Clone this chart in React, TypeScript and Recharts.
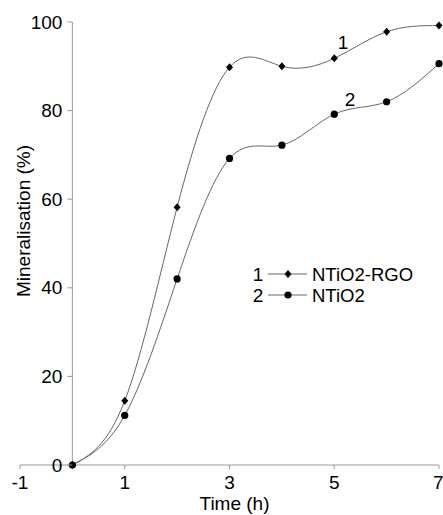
import { LineChart, Line, XAxis, YAxis, ReferenceLine, ReferenceDot } from "recharts"

const hours = [0, 1, 2, 3, 4, 5, 6, 7]
const ntio2Rgo = [0, 14.5, 58.2, 89.8, 90, 91.8, 97.8, 99.2]
const ntio2 = [0, 11.2, 42, 69.2, 72.2, 79.2, 82, 90.6]
const xTicks = [-1, 1, 3, 5, 7]
const yTicks = [0, 20, 40, 60, 80, 100]
const seriesNames = ["NTiO2-RGO", "NTiO2"]

const data = hours.map((h, i) => ({ h, a: ntio2Rgo[i], b: ntio2[i] }))

const W = 435
const H = 507
const margin = { top: 14, right: 4, left: 11, bottom: 0 }
const plotW = W - 12 - margin.right
// y axis is drawn at x = 0, one unit in from the left of the domain
const axisX = 12 + plotW / 8
const font = "'Liberation Sans', Arial, sans-serif"
const axisGrey = "#999999"
const lineGrey = "#666666"

const Diamond = (props: any) => {
  const { cx, cy } = props
  if (cx == null || cy == null) return null
  return <path d={`M${cx},${cy - 4}L${cx + 3.5},${cy}L${cx},${cy + 4}L${cx - 3.5},${cy}Z`} fill="#000" />
}

const Dot = (props: any) => {
  const { cx, cy } = props
  if (cx == null || cy == null) return null
  return <circle cx={cx} cy={cy} r={3.6} fill="#000" />
}

const YTick = (props: any) => {
  const { y, payload } = props
  return (
    <g>
      <line x1={axisX - 5} x2={axisX} y1={y} y2={y} stroke={axisGrey} />
      <text x={axisX - 10} y={y} textAnchor="end" dominantBaseline="central" fontSize={19} fill="#000" fontFamily={font}>
        {payload.value}
      </text>
    </g>
  )
}

export default function App() {
  return (
    <div style={{ position: "absolute", left: 8, top: 8, width: W, height: H, fontFamily: font }}>
      <LineChart width={W} height={H} data={data} margin={margin}>
        <XAxis
          dataKey="h"
          type="number"
          domain={[-1, 7]}
          ticks={xTicks}
          stroke={axisGrey}
          tickSize={4}
          tickMargin={7}
          height={50}
          tick={{ fill: "#000", fontSize: 19, fontFamily: font }}
          label={{ value: "Time (h)", position: "insideBottom", offset: 5, dx: 5, fill: "#000", fontSize: 19, fontFamily: font }}
        />
        <YAxis
          type="number"
          domain={[0, 100]}
          ticks={yTicks}
          width={1}
          axisLine={false}
          tickLine={false}
          interval={0}
          tick={(p: any) => <YTick {...p} />}
        />
        <ReferenceLine segment={[{ x: 0, y: 0 }, { x: 0, y: 100 }]} stroke={axisGrey} />
        <Line type="natural" dataKey="a" stroke={lineGrey} strokeWidth={1} dot={<Diamond />} isAnimationActive={false} />
        <Line type="natural" dataKey="b" stroke={lineGrey} strokeWidth={1} dot={<Dot />} isAnimationActive={false} />
        <ReferenceDot x={5.17} y={95.5} r={0} label={{ value: "1", fill: "#000", fontSize: 19, fontFamily: font }} />
        <ReferenceDot x={5.3} y={82.6} r={0} label={{ value: "2", fill: "#000", fontSize: 19, fontFamily: font }} />
        <text
          x={15}
          y={213}
          transform="rotate(-90 15 213)"
          textAnchor="middle"
          dominantBaseline="central"
          fontSize={19}
          fontFamily={font}
          fill="#000"
        >
          Mineralisation (%)
        </text>
        <g fontFamily={font} fontSize={18.5} fill="#000">
          {seriesNames.map((name, i) => {
            const cy = 266 + i * 21
            return (
              <g key={name}>
                <text x={250} y={cy} textAnchor="middle" dominantBaseline="central" fontSize={19}>
                  {i + 1}
                </text>
                <line x1={260} x2={299} y1={cy} y2={cy} stroke={lineGrey} />
                {i === 0 ? <Diamond cx={280} cy={cy} /> : <Dot cx={280} cy={cy} />}
                <text x={304} y={cy} dominantBaseline="central">
                  {name}
                </text>
              </g>
            )
          })}
        </g>
      </LineChart>
    </div>
  )
}
